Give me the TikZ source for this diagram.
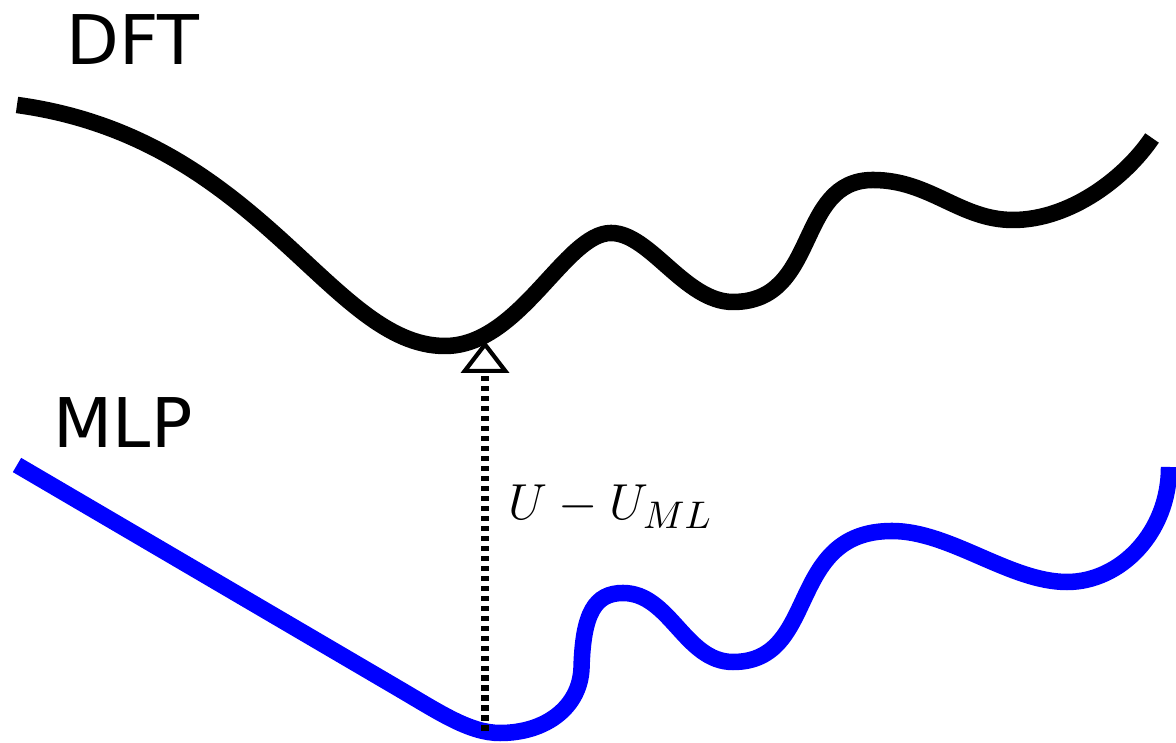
\documentclass[tikz,border=0pt]{standalone}
\usepackage{fontspec}
\setmainfont{DejaVu Sans}
\usetikzlibrary{arrows.meta}

\begin{document}
\begin{tikzpicture}[
    curve/.style={line width=4.7pt},
    gap/.style={line width=2pt, dash pattern=on 0.055cm off 0.045cm},
    lbl/.style={font=\fontsize{19.5}{22}\selectfont, inner sep=0pt, anchor=base west}]
    \useasboundingbox (0,0) rectangle (11.76,7.43);
    % DFT surface
    \draw[curve] (0.17,6.38) .. controls (2.6,6.05) and (3.3,3.97) .. (4.45,3.97)
        .. controls (5.2,3.97) and (5.65,5.10) .. (6.11,5.10)
        .. controls (6.5,5.10) and (6.85,4.41) .. (7.33,4.41)
        .. controls (8.2,4.41) and (7.95,5.63) .. (8.73,5.63)
        .. controls (9.3,5.63) and (9.6,5.23) .. (10.13,5.23)
        .. controls (10.7,5.23) and (11.25,5.65) .. (11.52,6.05);
    % MLP surface
    \draw[curve, blue] (0.17,2.78) -- (4.0,0.536)
        .. controls (4.4,0.301) and (4.7,0.10) .. (5.0,0.10)
        .. controls (5.46,0.10) and (5.80,0.36) .. (5.815,0.75)
        .. controls (5.83,1.30) and (5.95,1.50) .. (6.23,1.50)
        .. controls (6.7,1.50) and (6.85,0.81) .. (7.33,0.81)
        .. controls (8.2,0.81) and (7.85,2.12) .. (8.92,2.12)
        .. controls (9.5,2.12) and (10.1,1.61) .. (10.67,1.61)
        .. controls (11.2,1.61) and (11.69,2.1) .. (11.69,2.76);
    \node[lbl] (dft) at (0.66,6.78) {DFT};
    \node[lbl] (mlp) at (0.53,2.95) {MLP};
    % difference
    \coordinate (mlpmin) at (4.85,0.12);
    \coordinate (dftmin) at (4.85,4.02);
    \draw[gap, -{Triangle[open, length=0.32cm, width=0.48cm, line width=1.2pt]}] (mlpmin) -- (dftmin);
    \node[anchor=base west, inner sep=0pt, font=\fontsize{15.8}{18}\selectfont] (diff) at (5.08,2.23) {$U-U_{ML}$};
\end{tikzpicture}
\end{document}
